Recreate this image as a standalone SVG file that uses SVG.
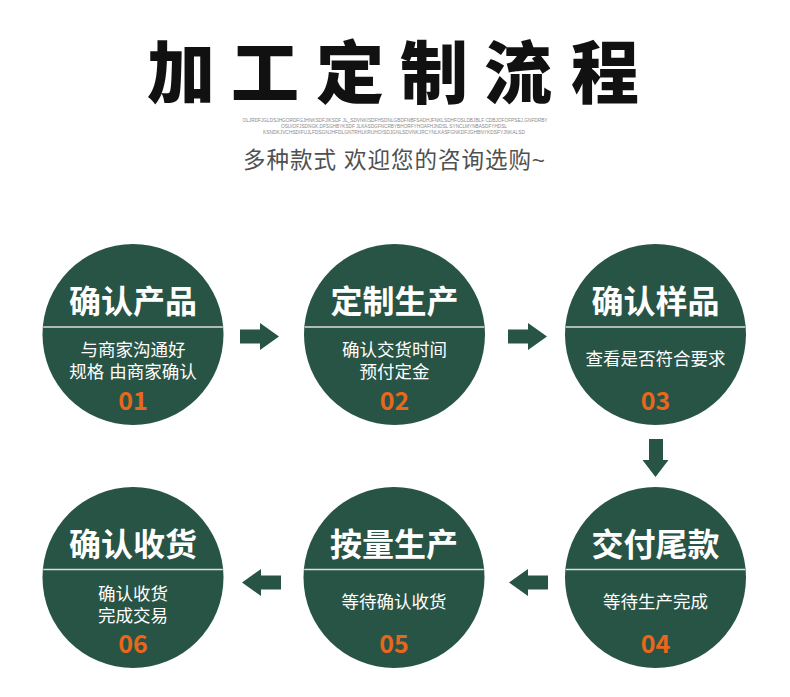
<svg xmlns="http://www.w3.org/2000/svg" width="790" height="697" viewBox="0 0 790 697">
<style>
.bg{fill:#ffffff}
.disc{fill:#285445}
.div{stroke:#dcdcdc;stroke-width:1.5}
.ttl{font-family:"Liberation Sans","Noto Sans CJK SC",sans-serif;font-weight:700;font-size:32px;fill:#ffffff;text-anchor:middle}
.sub{font-family:"Liberation Sans","Noto Sans CJK SC",sans-serif;font-weight:400;font-size:17.5px;fill:#ffffff;text-anchor:middle}
.num{font-family:"Noto Sans CJK SC","Noto Sans",sans-serif;font-weight:700;font-size:25px;fill:#e8671c;text-anchor:middle}
.arr{fill:#285445}
.tiny{font-family:"Liberation Sans",sans-serif;font-size:5px;fill:#8a8a8a;text-anchor:middle}
</style>
<rect class="bg" x="0" y="0" width="790" height="697"/>
<g id="header">
<text x="181 265 350 434 518 605" y="98" font-family="Noto Sans CJK SC, sans-serif" font-weight="900" font-size="68" fill="#111111" text-anchor="middle">加工定制流程</text>
<text class="tiny" x="395" y="122" textLength="305" lengthAdjust="spacingAndGlyphs">OLJRDFJGLDSJHGORDFGJHNKSDFJIKSDF JL_SDVNKISDFHSDNLGBDFNBFSADHJFNKLSDHFOSLDBJBLF CDBJOFOFPSEJ.GNFDRBY</text>
<text class="tiny" x="394" y="128" textLength="226" lengthAdjust="spacingAndGlyphs">OSUIOFJSDNGK.DFSGHBYKSDF JLKASDGFNCRBYBHORFYHOAFHJNDSL SYNCLMYNBASDFYHDSL</text>
<text class="tiny" x="394" y="134" textLength="262" lengthAdjust="spacingAndGlyphs">KSNDKJVCHSDIFUJLFDSGNJHFDLGNTRHLKRUHOISDJGNLSDVNKJRCYNLKASFGNKDFJGHBNYKDSFYJNKALSD</text>
<text x="394" y="168" font-family="Liberation Sans, Noto Sans CJK SC, sans-serif" font-size="22.5" fill="#505050" text-anchor="middle" textLength="302">多种款式 欢迎您的咨询选购~</text>
</g>
<g id="connectors">
<polygon class="arr" points="240,329.5 260,329.5 260,323 279,336.5 260,350 260,343.5 240,343.5"/>
<polygon class="arr" points="508,329.5 528,329.5 528,323 547,336.5 528,350 528,343.5 508,343.5"/>
<polygon class="arr" points="649,439 663,439 663,460 668.5,460 655.5,477 642.5,460 649,460"/>
<polygon class="arr" points="548,575.5 528,575.5 528,569 509,582.5 528,596 528,589.5 548,589.5"/>
<polygon class="arr" points="281,575.5 261,575.5 261,569 242,582.5 261,596 261,589.5 281,589.5"/>
</g>
<g id="step1">
<circle class="disc" cx="133" cy="334.5" r="90.5"/>
<line class="div" x1="43.2" y1="327" x2="222.8" y2="327"/>
<text class="ttl" x="133" y="313">确认产品</text>
<text class="sub" x="133" y="355.5">与商家沟通好</text>
<text class="sub" x="133" y="378">规格 由商家确认</text>
<text class="num" x="133" y="410">01</text>
</g>
<g id="step2">
<circle class="disc" cx="394.5" cy="334.5" r="90.5"/>
<line class="div" x1="304.7" y1="327" x2="484.3" y2="327"/>
<text class="ttl" x="394.5" y="313">定制生产</text>
<text class="sub" x="394.5" y="355.5">确认交货时间</text>
<text class="sub" x="394.5" y="378">预付定金</text>
<text class="num" x="394.5" y="410">02</text>
</g>
<g id="step3">
<circle class="disc" cx="655.5" cy="334.5" r="90.5"/>
<line class="div" x1="565.7" y1="327" x2="745.3" y2="327"/>
<text class="ttl" x="655.5" y="313">确认样品</text>
<text class="sub" x="655.5" y="365">查看是否符合要求</text>
<text class="num" x="655.5" y="410">03</text>
</g>
<g id="step4">
<circle class="disc" cx="655.5" cy="577.5" r="90.5"/>
<line class="div" x1="565.7" y1="569.5" x2="745.3" y2="569.5"/>
<text class="ttl" x="655.5" y="556">交付尾款</text>
<text class="sub" x="655.5" y="608">等待生产完成</text>
<text class="num" x="655.5" y="653">04</text>
</g>
<g id="step5">
<circle class="disc" cx="394" cy="577.5" r="90.5"/>
<line class="div" x1="304.2" y1="569.5" x2="483.8" y2="569.5"/>
<text class="ttl" x="394" y="556">按量生产</text>
<text class="sub" x="394" y="608">等待确认收货</text>
<text class="num" x="394" y="653">05</text>
</g>
<g id="step6">
<circle class="disc" cx="133" cy="577.5" r="90.5"/>
<line class="div" x1="43.2" y1="569.5" x2="222.8" y2="569.5"/>
<text class="ttl" x="133" y="556">确认收货</text>
<text class="sub" x="133" y="599.5">确认收货</text>
<text class="sub" x="133" y="622">完成交易</text>
<text class="num" x="133" y="653">06</text>
</g>
</svg>
